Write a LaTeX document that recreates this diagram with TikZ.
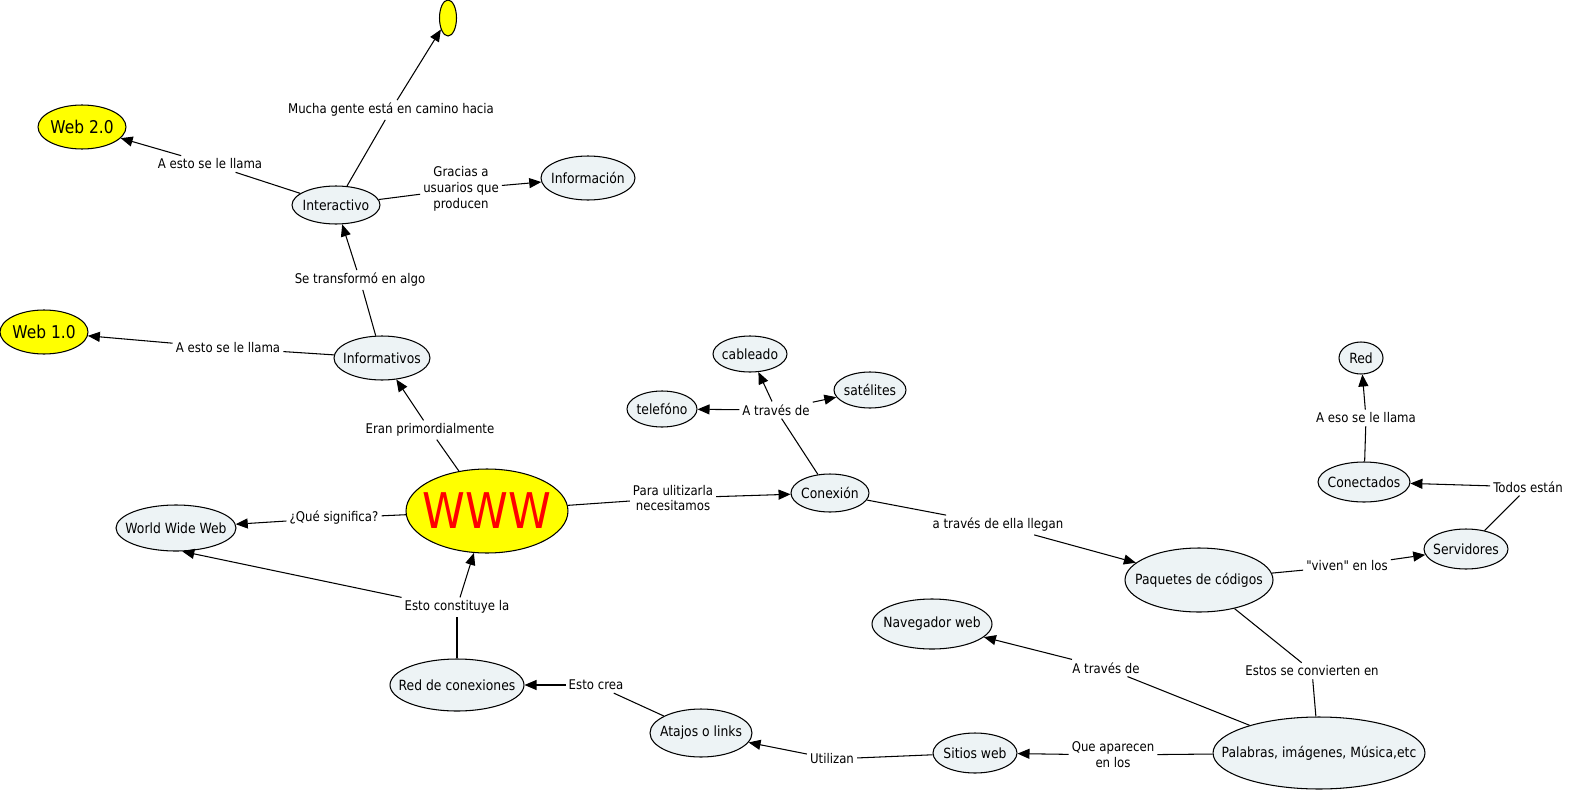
\documentclass[tikz,border=0pt]{standalone}
\usepackage{fontspec}
\setmainfont{DejaVu Sans}[FakeStretch=0.88, Ligatures=TeXOff]
\usepackage{tikz}
\usetikzlibrary{arrows.meta,shapes.geometric}
\definecolor{conceptfill}{RGB}{237,243,245}
\definecolor{webyellow}{RGB}{255,255,0}

\begin{document}
\begin{tikzpicture}[x=0.02cm, y=-0.02cm, line width=0.6pt,
  >={Triangle[length=2.4mm,width=2mm]},
  concept/.style={ellipse, draw, fill=conceptfill, inner sep=0pt,
    font=\fontsize{8}{9.6}\selectfont,
    execute at begin node={\hbox to 0pt\bgroup\hss},
    execute at end node={\hss\egroup}},
  bright/.style={concept, fill=webyellow},
  phrase/.style={inner sep=1.5pt, font=\fontsize{7.6}{9}\selectfont, align=center}]

\useasboundingbox (0,0) rectangle (1569,791);

% concepts
\node[bright, minimum width=0.34cm, minimum height=0.72cm] (dest) at (448,18) {};
\node[bright, minimum width=1.76cm, minimum height=0.88cm, font=\fontsize{10}{12}\selectfont] (web2) at (82,127) {Web 2.0};
\node[concept, minimum width=1.76cm, minimum height=0.76cm] (inter) at (336,205) {Interactivo};
\node[concept, minimum width=1.88cm, minimum height=0.88cm] (info) at (588,178) {Información};
\node[bright, minimum width=1.76cm, minimum height=0.88cm, font=\fontsize{10}{12}\selectfont] (web1) at (44,332) {Web 1.0};
\node[concept, minimum width=1.92cm, minimum height=0.88cm] (informat) at (382,358) {Informativos};
\node[bright, minimum width=3.24cm, minimum height=1.68cm, font=\fontsize{28}{32}\selectfont, text=red] (www) at (487,511) {WWW};
\node[concept, minimum width=2.4cm, minimum height=0.92cm] (wwweb) at (176,528) {World Wide Web};
\node[concept, minimum width=2.68cm, minimum height=1.04cm] (redcon) at (457,685) {Red de conexiones};
\node[concept, minimum width=2.04cm, minimum height=0.96cm] (atajos) at (701,733) {Atajos o links};
\node[concept, minimum width=1.48cm, minimum height=0.72cm] (cable) at (750,354) {cableado};
\node[concept, minimum width=1.44cm, minimum height=0.72cm] (sat) at (870,390) {satélites};
\node[concept, minimum width=1.4cm, minimum height=0.72cm] (tel) at (662,409) {telefóno};
\node[concept, minimum width=1.56cm, minimum height=0.76cm] (conex) at (830,493) {Conexión};
\node[concept, minimum width=2.96cm, minimum height=1.28cm] (paq) at (1199,580) {Paquetes de códigos};
\node[concept, minimum width=1.68cm, minimum height=0.8cm] (serv) at (1466,549) {Servidores};
\node[concept, minimum width=1.84cm, minimum height=0.8cm] (conect) at (1364,482) {Conectados};
\node[concept, minimum width=0.88cm, minimum height=0.64cm] (red) at (1361,358) {Red};
\node[concept, minimum width=2.4cm, minimum height=1cm] (nav) at (932,624) {Navegador web};
\node[concept, minimum width=1.68cm, minimum height=0.8cm] (sitios) at (975,753) {Sitios web};
\node[concept, minimum width=4.24cm, minimum height=1.44cm] (palab) at (1319,753) {Palabras, imágenes, Música,etc};

% linking phrases
\node[phrase] (p1) at (391,110) {Mucha gente está en camino hacia};
\node[phrase] (p2) at (210,164) {A esto se le llama};
\node[phrase] (p3) at (461,189) {Gracias a\\usuarios que\\producen};
\node[phrase] (p4) at (360,280) {Se transformó en algo};
\node[phrase] (p5) at (228,348) {A esto se le llama};
\node[phrase] (p6) at (430,430) {Eran primordialmente};
\node[phrase] (p7) at (334,518) {¿Qué significa?};
\node[phrase] (p8) at (673,498) {Para ulitizarla\\necesitamos};
\node[phrase] (p9) at (776,410) {A través de};
\node[phrase] (p10) at (998,525) {a través de ella llegan};
\node[phrase] (p11) at (457,607) {Esto constituye la};
\node[phrase] (p12) at (596,685) {Esto crea};
\node[phrase] (p13) at (832,759) {Utilizan};
\node[phrase] (p14) at (1113,755) {Que aparecen\\en los};
\node[phrase] (p15) at (1106,668) {A través de};
\node[phrase] (p16) at (1312,671) {Estos se convierten en};
\node[phrase] (p17) at (1347,566) {"viven" en los};
\node[phrase] (p18) at (1528,487) {Todos están};
\node[phrase] (p19) at (1366,418) {A eso se le llama};

% connectors
\draw (inter) -- (p1);
\draw[->] (p1) -- (dest);
\draw (inter) -- (p2);
\draw[->] (p2) -- (web2);
\draw (inter) -- (p3);
\draw[->] (p3) -- (info);
\draw (informat) -- (p4);
\draw[->] (p4) -- (inter);
\draw (informat) -- (p5);
\draw[->] (p5) -- (web1);
\draw (www) -- (p6);
\draw[->] (p6) -- (informat);
\draw (www) -- (p7);
\draw[->] (p7) -- (wwweb);
\draw (www) -- (p8);
\draw[->] (p8) -- (conex);
\draw (conex) -- (p9);
\draw[->] (p9) -- (tel);
\draw[->] (p9) -- (cable);
\draw[->] (p9) -- (sat);
\draw (conex) -- (p10);
\draw[->] (p10) -- (paq);
\draw (paq) -- (p17);
\draw[->] (p17) -- (serv);
\draw (serv) -- (p18);
\draw[->] (p18) -- (conect);
\draw (conect) -- (p19);
\draw[->] (p19) -- (red);
\draw (paq) -- (p16);
\draw (p16) -- (palab);
\draw (palab) -- (p15);
\draw[->] (p15) -- (nav);
\draw (palab) -- (p14);
\draw[->] (p14) -- (sitios);
\draw (sitios) -- (p13);
\draw[->] (p13) -- (atajos);
\draw (atajos) -- (p12);
\draw[->] (p12) -- (redcon);
\draw (redcon) -- (p11);
\draw[->] (p11) -- (www);
\draw[->] (p11.north west) -- (wwweb.-75);

\end{tikzpicture}
\end{document}
